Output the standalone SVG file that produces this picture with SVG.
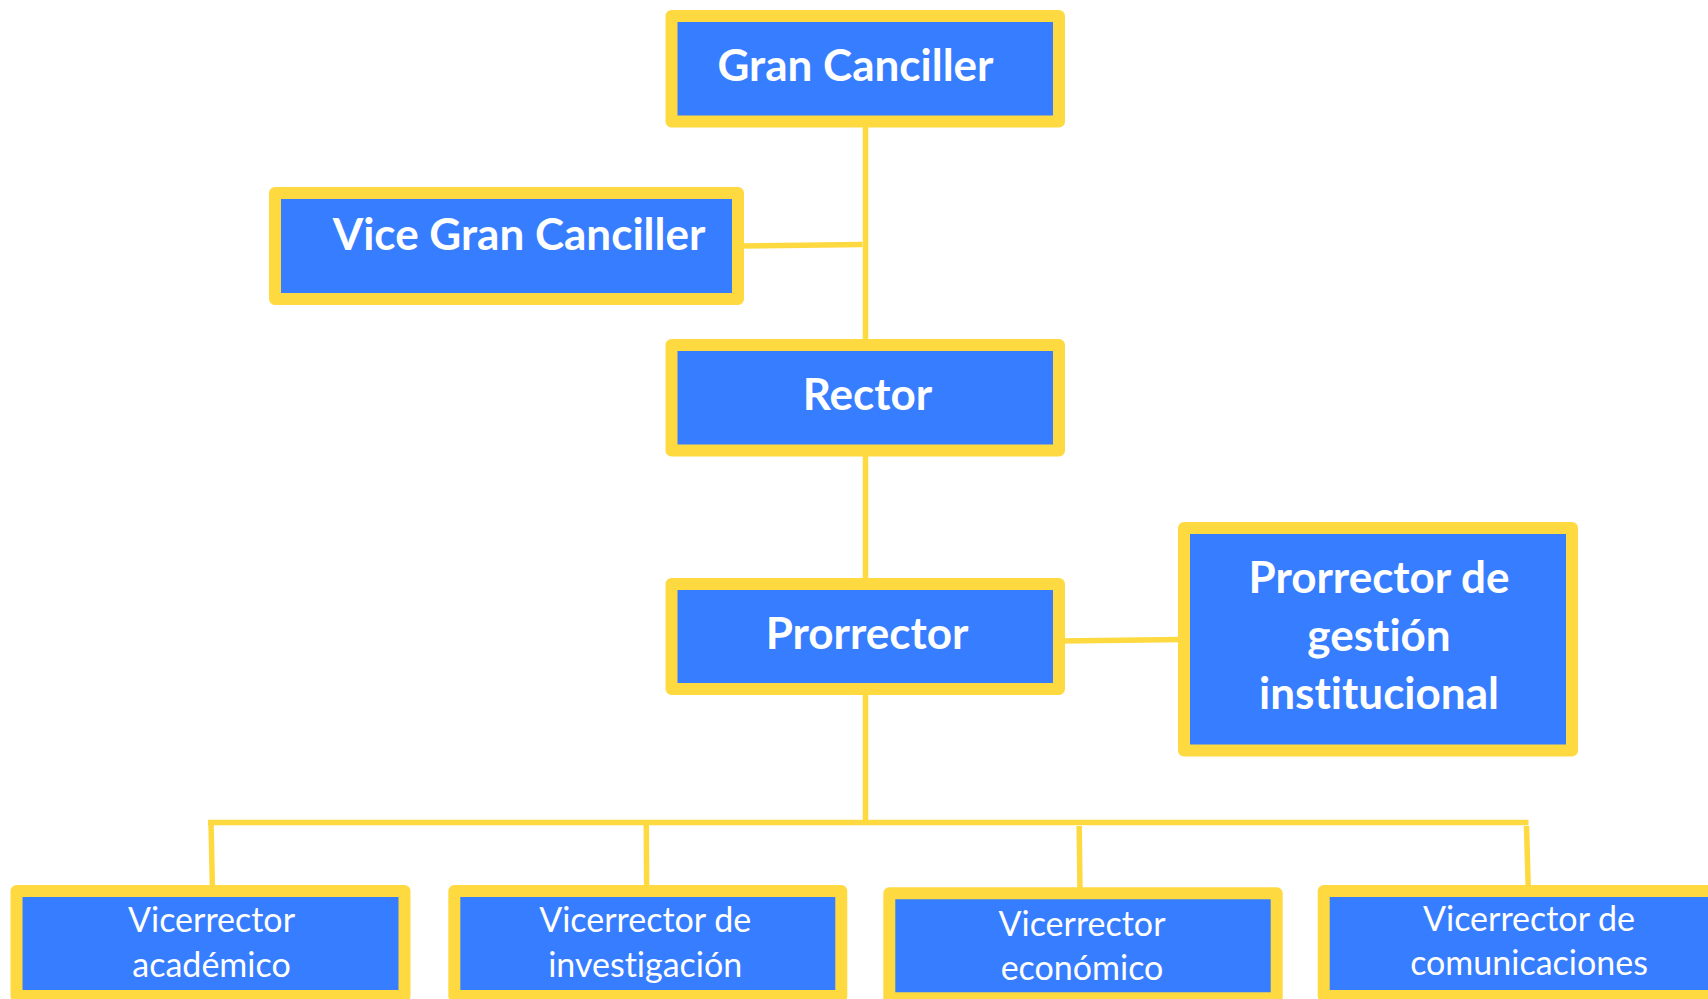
<svg xmlns="http://www.w3.org/2000/svg" width="1708" height="999" viewBox="0 0 1708 999">
<defs>
<style>
.box{fill:#377DFF;stroke:#FFD940;stroke-width:12;stroke-linejoin:round}
.ln{stroke:#FFD940;stroke-width:5.5;fill:none}
text{font-variant-ligatures:none;font-feature-settings:"liga" 0,"clig" 0}
.tb{font-family:Lato,"Open Sans","Liberation Sans",sans-serif;font-weight:bold;font-size:44px;fill:#FFFFFF;text-anchor:middle}
.tr{font-family:Lato,"Open Sans","Liberation Sans",sans-serif;font-weight:normal;font-size:34px;fill:#FFFFFF;text-anchor:middle}
</style>
</defs>
<rect x="0" y="0" width="1708" height="999" fill="#FFFFFF"/>
<g id="connectors">
<line class="ln" x1="865.5" y1="121" x2="865.5" y2="345"/>
<line class="ln" x1="738" y1="246" x2="862.5" y2="244.5"/>
<line class="ln" x1="865.5" y1="450" x2="865.5" y2="584"/>
<line class="ln" x1="1059" y1="641" x2="1184" y2="639.5"/>
<line class="ln" x1="865.5" y1="689" x2="865.5" y2="822.5"/>
<line class="ln" x1="208" y1="822.5" x2="1528.5" y2="822.5"/>
<line class="ln" x1="211" y1="822.5" x2="212.5" y2="891"/>
<line class="ln" x1="646.3" y1="825" x2="646.7" y2="891"/>
<line class="ln" x1="1079.2" y1="826" x2="1080" y2="893"/>
<line class="ln" x1="1526.5" y1="826" x2="1528.3" y2="891"/>
</g>
<g id="gran-canciller">
<rect class="box" x="671.5" y="16" width="387.5" height="105.5"/>
<text class="tb" x="855.5" y="81">Gran Canciller</text>
</g>
<g id="vice-gran-canciller">
<rect class="box" x="275" y="193" width="463" height="106"/>
<text class="tb" x="519" y="249.5">Vice Gran Canciller</text>
</g>
<g id="rector">
<rect class="box" x="671.5" y="345" width="387.5" height="105.5"/>
<text class="tb" x="867.5" y="410">Rector</text>
</g>
<g id="prorrector">
<rect class="box" x="671.5" y="584" width="387.5" height="105"/>
<text class="tb" x="867" y="649.3">Prorrector</text>
</g>
<g id="prorrector-gestion">
<rect class="box" x="1184" y="528" width="388" height="222.5"/>
<text class="tb" x="1379" y="593">Prorrector de</text>
<text class="tb" x="1379" y="650.5">gestión</text>
<text class="tb" x="1379" y="708.5">institucional</text>
</g>
<g id="vicerrector-academico">
<rect class="box" x="16.5" y="891" width="388" height="105"/>
<text class="tr" x="211.5" y="932.3">Vicerrector</text>
<text class="tr" x="211.5" y="976.7">académico</text>
</g>
<g id="vicerrector-investigacion">
<rect class="box" x="454.3" y="891" width="387" height="105"/>
<text class="tr" x="645.2" y="931.7">Vicerrector de</text>
<text class="tr" x="645.2" y="976.7">investigación</text>
</g>
<g id="vicerrector-economico">
<rect class="box" x="889.3" y="893.3" width="387.4" height="105"/>
<text class="tr" x="1082" y="936">Vicerrector</text>
<text class="tr" x="1082" y="980">económico</text>
</g>
<g id="vicerrector-comunicaciones">
<rect class="box" x="1323.7" y="891" width="392" height="105"/>
<text class="tr" x="1529" y="930.7">Vicerrector de</text>
<text class="tr" x="1529" y="975">comunicaciones</text>
</g>
</svg>
